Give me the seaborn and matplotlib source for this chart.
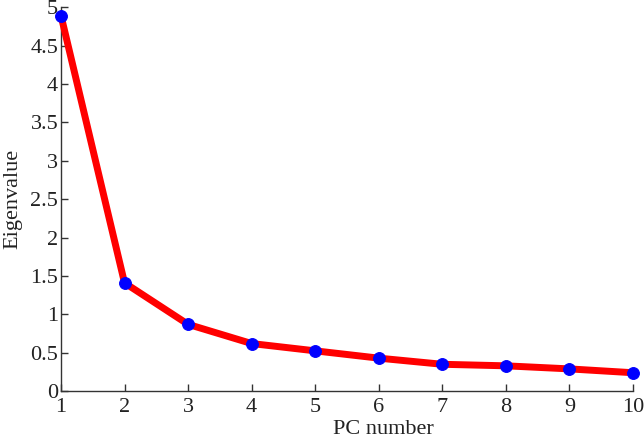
import matplotlib
matplotlib.use("Agg")
import matplotlib.pyplot as plt
import seaborn as sns
import pandas as pd

pc_number = [1, 2, 3, 4, 5, 6, 7, 8, 9, 10]
eigenvalue = [4.89, 1.41, 0.87, 0.62, 0.525, 0.43, 0.35, 0.33, 0.29, 0.24]
x_ticks = [1, 2, 3, 4, 5, 6, 7, 8, 9, 10]
y_ticks = [0, 0.5, 1, 1.5, 2, 2.5, 3, 3.5, 4, 4.5, 5]
y_tick_labels = ["0", "0.5", "1", "1.5", "2", "2.5", "3", "3.5", "4", "4.5", "5"]

sns.set_style("white")
plt.rcParams['font.family'] = ['Liberation Serif', 'DejaVu Serif']

df = pd.DataFrame({"PC": pc_number, "Eig": eigenvalue})

fig = plt.figure(figsize=(6.44, 4.44), dpi=100)
ax = fig.add_axes([0.0947, 0.119, 0.888, 0.865])
sns.lineplot(data=df, x="PC", y="Eig", ax=ax, color="red", linewidth=5,
             marker="o", markersize=8.5, markerfacecolor="blue", markeredgecolor="blue",
             clip_on=False, zorder=3)

ax.set_xlim(1, 10)
ax.set_ylim(0, 5)
ax.set_xticks(x_ticks)
ax.set_xticklabels([str(v) for v in x_ticks])
ax.set_yticks(y_ticks)
ax.set_yticklabels(y_tick_labels)
for s in ["top", "right"]:
    ax.spines[s].set_visible(False)
for s in ["left", "bottom"]:
    ax.spines[s].set_color("#333333")
    ax.spines[s].set_linewidth(1.0)
ax.tick_params(direction="in", length=5, width=1, colors="#333333", labelsize=16,
               labelcolor="#222222", left=True, bottom=True)
ax.tick_params(axis="x", pad=5)
ax.tick_params(axis="y", pad=2)
ax.set_xlabel("PC number", fontsize=16, color="#222222", labelpad=5)
ax.xaxis.set_label_coords(0.563, -0.075, transform=ax.transAxes)
ax.xaxis.label.set_verticalalignment("top")
ax.set_ylabel("Eigenvalue", fontsize=16, color="#222222", labelpad=6)
fig.savefig("out.png", dpi=100)
